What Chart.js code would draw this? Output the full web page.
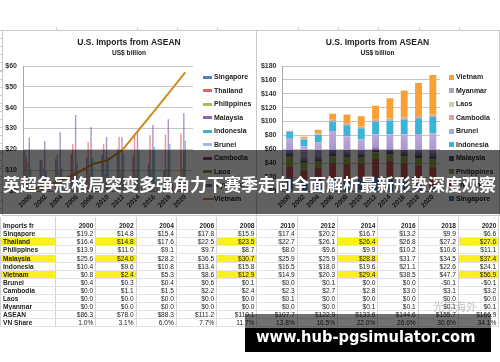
<!DOCTYPE html>
<html><head><meta charset="utf-8">
<script src="https://cdn.jsdelivr.net/npm/chart.js@4.4.1/dist/chart.umd.min.js"></script>
<style>
html,body{margin:0;padding:0;background:#fff;}
body{width:500px;height:362px;position:relative;overflow:hidden;font-family:'Liberation Sans',Arial,sans-serif;}
canvas{position:absolute;}
.panel{position:absolute;border:1px solid #c9c9c9;box-sizing:border-box;pointer-events:none;}
.lg{position:absolute;font-weight:bold;font-size:7px;color:#222;white-space:nowrap;line-height:8px;}
.lgbox{position:absolute;}
.cell{position:absolute;box-sizing:border-box;border-right:1px solid #d4d4d4;border-bottom:1px solid #e4e4e4;font-size:6.6px;line-height:8px;white-space:nowrap;overflow:hidden;color:#222;}
.tick{position:absolute;top:27px;width:1px;height:4px;background:#cfcfcf;}
#band{position:absolute;left:0;top:150px;width:500px;height:64px;background:rgba(0,0,0,0.62);z-index:10;}
#bandText{position:absolute;left:3px;top:175px;font-family:'Noto Sans CJK SC',sans-serif;font-weight:bold;font-size:17px;line-height:17px;color:#fff;white-space:nowrap;z-index:11;}
#greyBox{position:absolute;left:245px;top:314px;width:246px;height:14px;background:rgba(0,0,0,0.56);z-index:10;}
#blackBox{position:absolute;left:245px;top:328px;width:246px;height:24px;background:#000;z-index:10;}
#url{position:absolute;left:256px;top:326.6px;font-family:'DejaVu Sans Condensed','DejaVu Sans',sans-serif;font-weight:bold;font-size:16.3px;line-height:19px;color:#fff;white-space:nowrap;z-index:11;}
#wm{position:absolute;left:433px;top:300px;font-family:'Noto Sans CJK SC',sans-serif;font-size:11px;line-height:13px;color:rgba(150,150,150,0.55);z-index:5;}
</style></head><body>
<div style="position:absolute;left:0;top:30px;width:2px;height:185px;background:repeating-linear-gradient(to bottom,#cccccc 0,#cccccc 1px,transparent 1px,transparent 8.1px);"></div>
<canvas id="c1" width="256" height="185" style="left:0;top:30px;width:256px;height:185px;"></canvas>
<canvas id="c2" width="243" height="185" style="left:257px;top:30px;width:243px;height:185px;"></canvas>
<div class="panel" style="left:2px;top:30px;width:255px;height:186px;"></div>
<div class="panel" style="left:256px;top:30px;width:244px;height:186px;"></div>
<div id="table"></div>
<div id="wm">光宇海外</div>
<div id="band"></div>
<div id="bandText">英超争冠格局突变多强角力下赛季走向全面解析最新形势深度观察</div>
<div id="greyBox"></div>
<div id="blackBox"></div>
<div id="url">www.hub-pgsimulator.com</div>
<script>
const years = ['2000','2002','2004','2006','2008','2010','2012','2014','2016','2018','2020'];
const singapore   = [19.2,14.8,15.4,17.8,15.9,17.4,20.2,16.7,13.2, 9.9, 6.6];
const thailand    = [16.4,14.8,17.6,22.5,23.5,22.7,26.1,26.4,26.8,27.2,27.6];
const philippines = [13.9,11.0, 9.1, 9.7, 8.7, 8.0, 9.6, 9.9,10.2,10.6,11.1];
const malaysia    = [25.6,24.0,28.2,36.5,30.7,25.9,25.9,28.8,31.7,34.5,37.4];
const indonesia   = [10.4, 9.6,10.8,13.4,15.8,16.5,18.0,19.6,21.1,22.6,24.1];
const vietnam     = [ 0.8, 2.4, 5.3, 8.6,12.9,14.9,20.3,29.4,38.5,47.7,56.9];
const brunei      = [ 0.4, 0.3, 0.4, 0.6, 0.1, 0.0, 0.1, 0.0, 0.0,-0.1,-0.1];
const cambodia    = [ 0.0, 1.1, 1.5, 2.2, 2.4, 2.3, 2.7, 2.8, 3.0, 3.1, 3.2];
const laos        = [ 0.0, 0.0, 0.0, 0.0, 0.0, 0.1, 0.0, 0.0, 0.0, 0.0, 0.0];
const myanmar     = [ 0.0, 0.0, 0.0, 0.0, 0.0, 0.0, 0.0, 0.1, 0.1, 0.1, 0.1];
const aseanTotal  = [86.3,78.0,88.3,111.2,110.1,107.7,122.9,133.6,144.6,155.7,166.9];
const vnShare     = [ 1.0, 3.1, 6.0, 7.7,11.7,13.8,16.5,22.0,26.6,30.6,34.1];
const chartTitle = 'U.S. Imports from ASEAN';
const chartSubtitle = 'US$ billion';
const leftMax = 60, leftStep = 10, rightMax = 180, rightStep = 20;

// ---------- styles ----------
const FONT = "'Liberation Sans', Arial, sans-serif";
Chart.defaults.font.family = FONT;
Chart.defaults.color = '#333';

const barCountries = ['Singapore','Thailand','Philippines','Malaysia','Indonesia','Brunei','Cambodia','Laos','Myanmar'];
const barSeries = [singapore,thailand,philippines,malaysia,indonesia,brunei,cambodia,laos,myanmar];
const leftColors = ['#4f7fbf','#e8625c','#9bc25a','#8a68b0','#3fb0d0','#9cbbe5','#9e4f48','#7d9c45','#7c6aa0'];
const vnColor = '#d18b1e';
function rgba(hex,a){const n=parseInt(hex.slice(1),16);return `rgba(${n>>16},${(n>>8)&255},${n&255},${a})`;}

const rightColors = ['#4f81bd','#c0504d','#86a845','#5d4a80','#3cb4d8','#95b3d7','#e3a09c','#c3d69b','#b3a2c7','#f7a033'];

function commonScales(max, step, yw, spacer){
  return {
    x:{ grid:{display:false,drawTicks:false}, border:{display:true,color:'#a8a8a8'},
        ticks:{minRotation:45,maxRotation:45,autoSkip:false,padding:2,color:'#333',font:{size:6.8,weight:'bold'}},
        afterFit(s){s.height=24;} },
    y:{ min:0,max:max, grid:{color:'#c6c6c6',drawTicks:false}, border:{display:true,color:'#a8a8a8'},
        ticks:{stepSize:step,padding:6,color:'#333',font:{size:7,weight:'bold'},callback:v=>'$'+v},
        afterFit(s){s.width=yw;} },
    yR:{ position:'right', grid:{display:false,drawTicks:false}, border:{display:false}, ticks:{display:false},
        afterFit(s){s.width=spacer;} }
  };
}
function titles(){
  return {
    legend:{display:false}, tooltip:{enabled:false},
    title:{display:true,text:chartTitle,color:'#222',font:{size:8.5,weight:'bold',lineHeight:1},padding:{top:8.75,bottom:0}},
    subtitle:{display:true,text:chartSubtitle,color:'#222',font:{size:6.6,weight:'bold',lineHeight:1},padding:{top:2.15,bottom:10}}
  };
}

const leftChart = new Chart(document.getElementById('c1'), {
  type:'bar',
  data:{ labels:years, datasets:[
    ...barCountries.map((c,k)=>({label:c,data:barSeries[k],yAxisID:'y',backgroundColor:rgba(leftColors[k],0.68),
      legendColor:leftColors[k],categoryPercentage:0.85,barPercentage:1.0,order:1})),
    {type:'line',label:'Vietnam',data:vietnam,yAxisID:'y',borderColor:vnColor,backgroundColor:vnColor,legendColor:vnColor,
      borderWidth:2,pointRadius:0,tension:0,order:0}
  ]},
  options:{ responsive:false, animation:false, devicePixelRatio:1,
    layout:{padding:{left:2,right:0,top:0,bottom:0}},
    plugins:titles(), scales:commonScales(leftMax,leftStep,21,63) }
});

function malaysiaFill(ctx){
  const fallback = '#9a86c0';
  if (ctx.type !== 'data') return fallback;
  const chart = ctx.chart, ys = chart.scales.y;
  if (!ys) return fallback;
  const i = ctx.dataIndex;
  const base = singapore[i]+thailand[i]+philippines[i];
  const y0 = ys.getPixelForValue(base), y1 = ys.getPixelForValue(base+malaysia[i]);
  if (!isFinite(y0)||!isFinite(y1)||y0===y1) return fallback;
  const g = chart.ctx.createLinearGradient(0,y0,0,y1);
  g.addColorStop(0,'#4a3b6a'); g.addColorStop(0.3,'#a996cc'); g.addColorStop(1,'#bcaadb');
  return g;
}
const stackCountries = ['Singapore','Thailand','Philippines','Malaysia','Indonesia','Brunei','Cambodia','Laos','Myanmar','Vietnam'];
const stackSeries = [singapore,thailand,philippines,malaysia,indonesia,brunei,cambodia,laos,myanmar,vietnam];
const rightChart = new Chart(document.getElementById('c2'), {
  type:'bar',
  data:{ labels:years, datasets: stackCountries.map((c,k)=>({label:c,data:stackSeries[k],yAxisID:'y',
      backgroundColor: c==='Malaysia'?malaysiaFill:rightColors[k], legendColor:rightColors[k],
      categoryPercentage:0.8,barPercentage:0.6})) },
  options:{ responsive:false, animation:false, devicePixelRatio:1,
    layout:{padding:{left:0,right:2,top:0,bottom:0}},
    plugins:titles(),
    scales:(()=>{const s=commonScales(rightMax,rightStep,25.5,58); s.x.stacked=true; s.y.stacked=true; return s;})() }
});

// ---------- HTML legends built from the chart datasets ----------
function htmlLegend(chart, o){
  let items = chart.data.datasets.map(d=>({label:d.label,color:d.legendColor,line:d.type==='line'}));
  if (o.reverse) items = items.slice().reverse();
  items.forEach((it,k)=>{
    const y = o.top0 + k*o.step;
    const w = it.line?11:o.boxW, h = it.line?2:o.boxH;
    const b = document.createElement('div'); b.className='lgbox';
    b.style.cssText=`left:${o.boxLeft}px;top:${y-h/2}px;width:${w}px;height:${h}px;background:${it.color};`;
    const t = document.createElement('div'); t.className='lg'; t.textContent=it.label;
    t.style.left=o.textLeft+'px'; t.style.top=(y-4)+'px';
    document.body.appendChild(b); document.body.appendChild(t);
  });
}
htmlLegend(leftChart,{boxLeft:203,textLeft:214,top0:77,step:13.55,boxW:9,boxH:3});
htmlLegend(rightChart,{boxLeft:449,textLeft:456,top0:77,step:13.55,boxW:5,boxH:5,reverse:true});

// ---------- table ----------
const rowLabels = ['Singapore','Thailand','Philippines','Malaysia','Indonesia','Vietnam','Brunei','Cambodia','Laos','Myanmar','ASEAN','VN Share'];
const rowData = [singapore,thailand,philippines,malaysia,indonesia,vietnam,brunei,cambodia,laos,myanmar,aseanTotal,vnShare];
const highlightRows = ['Thailand','Malaysia','Vietnam'];
const highlightCols = ['2002','2008','2014','2020'];
const tbl = document.getElementById('table');
const colX = j => j===0 ? 0 : 56 + (j-1)*40.3;
const colW = j => j===0 ? 56 : 40.3;
function addCell(j, top, h, text, opts){
  const d = document.createElement('div'); d.className='cell';
  d.style.left=colX(j)+'px'; d.style.top=top+'px'; d.style.width=colW(j)+'px'; d.style.height=h+'px';
  if (j===0) d.style.borderLeft='1px solid #d4d4d4';
  d.style.textAlign = j===0?'left':'right';
  d.style.padding = j===0?'0 0 0 2px':'0 2px 0 0';
  if (opts.bold) d.style.fontWeight='bold';
  if (opts.yellow) d.style.background='#fbf01c';
  if (opts.pt) d.style.paddingTop=opts.pt+'px';
  d.textContent=text; tbl.appendChild(d);
}
function money(v){ return (v<0?'-$':'$')+Math.abs(v).toFixed(1); }
addCell(0,217,13.2,'Imports fr',{bold:true,pt:5});
years.forEach((y,k)=>addCell(k+1,217,13.2,y,{bold:true,pt:5}));
rowLabels.forEach((lab,r)=>{
  const top = 230.2 + r*8.1;
  const hl = highlightRows.includes(lab);
  addCell(0,top,8.1,lab,{bold:true,yellow:hl});
  rowData[r].forEach((v,k)=>{
    const txt = lab==='VN Share' ? v.toFixed(1)+'%' : money(v);
    addCell(k+1,top,8.1,txt,{yellow: hl && highlightCols.includes(years[k])});
  });
});
// spreadsheet column lines peeking above the charts
[56,136.6,176.9,217.2,297.8,338.1,378.4,418.7,459].forEach(x=>{
  const t=document.createElement('div'); t.className='tick'; t.style.left=x+'px'; document.body.appendChild(t);
});
</script>
</body></html>
